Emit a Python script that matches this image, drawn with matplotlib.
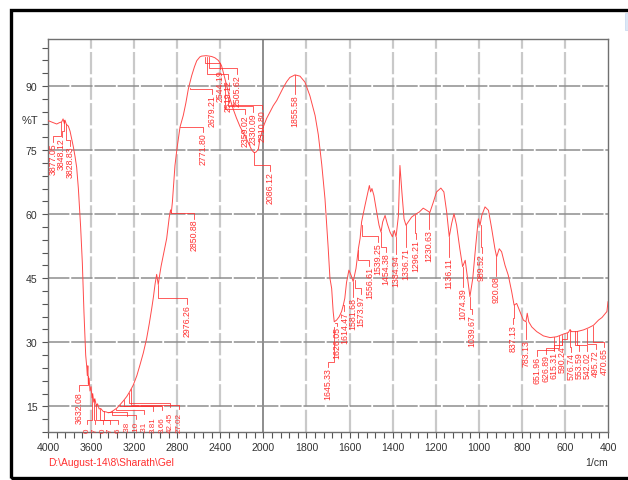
"""FTIR transmittance spectrum (Shimadzu style, scale change at 2000 1/cm)."""

import numpy as np
import matplotlib
matplotlib.use("Agg")
import matplotlib.pyplot as plt
from matplotlib.patches import Rectangle

plt.rcParams["font.family"] = ["Liberation Sans", "DejaVu Sans"]

# ---- spectrum (wavenumber, %T) ----
wavenumber = [
    4000, 3960, 3919, 3895, 3873, 3860, 3848, 3842, 3829, 3811, 3795, 3780, 3765,
    3749, 3734, 3718, 3697, 3681, 3666, 3650, 3640, 3635, 3630, 3625, 3618, 3610,
    3600, 3592, 3585, 3575, 3565, 3550, 3540, 3525, 3510, 3487, 3460, 3440, 3420,
    3394, 3360, 3331, 3300, 3269, 3240, 3208, 3175, 3146, 3115, 3084, 3060, 3037,
    3020, 3006, 2991, 2976, 2966, 2950, 2929, 2898, 2874, 2862, 2855, 2845, 2821,
    2800, 2774, 2744, 2720, 2697, 2666, 2640, 2619, 2590, 2573, 2530, 2480, 2450,
    2419, 2400, 2388, 2360, 2330, 2310, 2279, 2250, 2217, 2155, 2108, 2086, 2070,
    2047, 2032, 2000, 1985, 1954, 1938, 1908, 1892, 1877, 1853, 1830, 1807, 1784,
    1760, 1745, 1729, 1714, 1699, 1691, 1683, 1676, 1671, 1660, 1648, 1637, 1629,
    1622, 1614, 1603, 1593, 1583, 1570, 1559, 1551, 1544, 1528, 1518, 1508, 1502,
    1496, 1487, 1474, 1463, 1454, 1446, 1435, 1425, 1412, 1401, 1392, 1384, 1373,
    1366, 1357, 1347, 1338, 1327, 1312, 1296, 1276, 1258, 1242, 1227, 1211, 1196,
    1176, 1162, 1149, 1137, 1126, 1115, 1103, 1088, 1075, 1063, 1054, 1041, 1028,
    1014, 1002, 994, 986, 971, 955, 940, 925, 917, 905, 894, 878, 863, 847, 836,
    824, 809, 793, 781, 775, 768, 754, 731, 700, 669, 638, 608, 584, 576, 570, 545,
    514, 490, 467, 444, 428, 418, 405, 400,
]
transmittance = [
    81.9, 81.5, 81.1, 81.4, 81.6, 82.3, 81.2, 82.0, 81.0, 80.6, 79.4, 77.6, 75.8,
    73.5, 71.0, 66.0, 57.0, 48.5, 37.0, 27.0, 24.2, 22.2, 24.5, 20.2, 21.6, 18.6,
    19.6, 17.0, 18.0, 16.0, 16.8, 15.0, 15.6, 14.4, 14.5, 13.8, 13.7, 13.5, 13.6,
    14.0, 14.6, 15.4, 16.3, 17.3, 18.5, 20.0, 22.2, 24.7, 27.5, 30.9, 34.3, 37.9,
    40.8, 43.6, 45.9, 43.5, 45.3, 47.8, 50.4, 54.3, 59.3, 61.0, 60.3, 62.8, 71.4,
    75.8, 80.4, 83.1, 86.0, 89.3, 92.4, 94.5, 95.9, 96.8, 97.0, 97.1, 96.9, 96.6,
    96.0, 95.3, 94.7, 92.0, 89.0, 87.0, 84.5, 82.5, 80.5, 77.5, 75.0, 74.4, 74.5,
    75.2, 77.6, 80.5, 82.4, 85.4, 86.6, 89.6, 91.0, 92.0, 92.6, 92.3, 90.9, 87.7,
    83.1, 78.6, 71.6, 63.6, 52.0, 45.0, 42.6, 37.2, 34.8, 35.2, 36.0, 37.2, 38.7,
    40.3, 44.0, 46.9, 45.7, 44.2, 47.3, 51.9, 54.3, 58.2, 62.1, 64.4, 66.7, 65.2,
    66.0, 64.4, 60.5, 57.4, 55.8, 58.2, 59.7, 57.8, 55.8, 54.7, 56.2, 54.7, 59.7,
    71.4, 65.2, 58.9, 57.4, 58.2, 59.3, 59.9, 60.5, 61.4, 60.9, 60.4, 62.8, 65.2,
    66.1, 65.2, 60.5, 54.7, 57.8, 60.1, 57.4, 51.9, 47.7, 49.2, 45.7, 40.7, 44.9,
    52.7, 58.9, 57.4, 59.7, 61.7, 60.9, 56.6, 51.9, 50.0, 51.9, 51.2, 48.0, 45.7,
    41.8, 38.7, 39.1, 37.2, 35.2, 34.8, 36.8, 34.8, 33.6, 32.5, 31.5, 31.1, 31.3,
    31.9, 32.3, 33.0, 32.5, 32.5, 32.9, 33.4, 34.0, 35.2, 35.8, 36.4, 37.2, 39.5,
]

# ---- peak labels: text, text x (1/cm), text top (%T), peak x, peak %T ----
peak_text = [
    "3877.05", "3848.12", "3828.83", "3632.08",
    "2976.26", "2850.88", "2771.80", "2679.21", "2544.19", "2519.12", "2505.62",
    "2359.02", "2330.09", "2310.80", "2086.12", "1855.58",
    "1645.33", "1626.05", "1614.47", "1581.68", "1573.97", "1556.61", "1539.25",
    "1454.38", "1384.94", "1336.71", "1296.21", "1230.63", "1136.11", "1074.39",
    "1039.67", "989.52", "920.08", "837.13", "783.13",
    "651.96", "626.89", "615.31", "590.24", "576.74", "553.59", "542.02",
    "495.72", "470.65",
]
text_x = [
    3956, 3873, 3796, 3712,
    2712, 2641, 2558, 2480, 2403, 2326, 2248, 2172, 2094, 2016, 1969, 1853,
    1699, 1660, 1624, 1585, 1547, 1508, 1468, 1431, 1384, 1338, 1291, 1230,
    1137, 1075, 1033, 987, 920, 839, 781,
    728, 689, 651, 612, 573, 535, 496, 458, 419,
]
text_top = [
    76.9, 78.1, 76.0, 18.6,
    39.0, 58.9, 79.2, 88.1, 94.0, 91.6, 92.8, 83.4, 83.9, 84.6, 70.1, 88.1,
    24.2, 33.9, 37.4, 40.6, 41.3, 47.9, 53.5, 51.1, 50.7, 52.3, 54.2, 56.5,
    50.0, 42.9, 36.6, 50.9, 45.6, 34.3, 30.8,
    26.9, 27.3, 28.0, 29.4, 27.7, 28.0, 28.0, 28.4, 28.8,
]
peak_x = [
    3877, 3848, 3829, 3632,
    2976, 2858, 2772, 2680, 2544, 2519, 2506, 2359, 2330, 2311, 2086, 1855,
    1672, 1668, 1629, 1583, 1574, 1559, 1544, 1454, 1384, 1338, 1296, 1230,
    1137, 1075, 1041, 990, 920, 837, 783,
    652, 627, 615, 590, 577, 554, 542, 496, 471,
]
peak_y = [
    81.6, 82.0, 81.0, 22.0,
    43.5, 60.5, 80.4, 89.5, 96.9, 96.8, 96.8, 90.5, 87.5, 85.5, 74.5, 92.5,
    33.5, 34.5, 38.7, 44.2, 44.5, 51.5, 57.5, 55.8, 54.7, 57.4, 59.9, 60.4,
    54.7, 47.7, 40.7, 57.4, 50.0, 38.7, 34.8,
    31.2, 31.4, 31.7, 32.2, 32.9, 32.6, 32.6, 33.2, 33.8,
]

# O-H band labels, cut off by the bottom of the plot in the reference
# (only the visible ends of the numbers are shown)
band_text = ["0", "7", "0", "7", "6", ".38", ".10", ".31", "3.81", "3.66", "42.45", "27.02"]
band_x = [3635, 3564, 3491, 3420, 3347, 3269, 3183, 3109, 3028, 2944, 2867, 2784]
band_top = [10.8, 10.8, 10.8, 10.8, 10.8, 12.7, 12.0, 13.2, 14.0, 14.2, 14.8, 14.4]
band_peak_x = [3595, 3577, 3552, 3514, 3477, 3440, 3404, 3373, 3330, 3290, 3252, 3227]
band_peak_y = [18.0, 16.8, 15.5, 14.5, 14.0, 13.7, 14.0, 14.5, 15.4, 16.5, 18.2, 19.0]

x_major = [4000, 3600, 3200, 2800, 2400, 2000, 1800, 1600, 1400, 1200, 1000, 800, 600, 400]
y_major = [15, 30, 45, 60, 75, 90]

RED = "#ff3030"
LINE_RED = "#ff4a4a"


def fwd(w):
    # 400 per division above 2000 1/cm, 200 per division below
    w = np.asarray(w, dtype=float)
    return np.where(w > 2000, 8 + (w - 2000) / 400, (w - 400) / 200)


def inv(u):
    u = np.asarray(u, dtype=float)
    return np.where(u > 8, 2000 + (u - 8) * 400, 400 + u * 200)


fig = plt.figure(figsize=(6.28, 4.81), dpi=100)
ax = fig.add_axes([48 / 628, 1 - 433 / 481, 560 / 628, 393 / 481])

ax.set_xscale("function", functions=(fwd, inv))
ax.set_xlim(4000, 400)
ax.set_ylim(9, 101)

# grid
for w in x_major[1:-1]:
    if w == 2000:
        ax.axvline(w, color="#7a7a7a", lw=1.2, zorder=0)
    else:
        ax.axvline(w, color="#c9c9c9", lw=1.6, ls=(0, (10, 1.5)), zorder=0)
for v in y_major:
    ax.axhline(v, color="#8e8e8e", lw=1.1, ls=(0, (14, 1.2)), zorder=0)

ax.plot(wavenumber, transmittance, color=LINE_RED, lw=0.7, zorder=3)

# peak labels with leader lines
for txt, tx, ty, px, py in zip(peak_text, text_x, text_top, peak_x, peak_y):
    knee = min(py, ty + 1.3)
    ax.plot([px, px, tx, tx], [py, knee, knee, ty], color=RED, lw=0.55,
            zorder=4)
    ax.text(tx, ty, txt, rotation=90, ha="center", va="top", fontsize=6.3,
            color=RED, zorder=5)

for txt, tx, ty, px, py in zip(band_text, band_x, band_top, band_peak_x, band_peak_y):
    ax.plot([px, px, tx, tx], [py, ty + 1.0, ty + 1.0, ty], color=RED,
            lw=0.55, zorder=4)
    ax.text(tx, 9.0, txt, rotation=90, ha="center", va="bottom", fontsize=5.8,
            color=RED, zorder=5)

ax.set_xticks(x_major)
ax.set_xticklabels([str(w) for w in x_major])
x_minor = [w for w in range(4000, 2000, -80)] + [w for w in range(2000, 399, -40)]
ax.set_xticks(x_minor, minor=True)
ax.set_yticks(y_major)
ax.set_yticklabels([str(v) for v in y_major])
ax.set_yticks(list(range(9, 100, 3)), minor=True)

ax.tick_params(which="both", direction="out", length=4, width=0.8,
               colors="#555555", labelsize=7.6, labelcolor="#333333", pad=3.5)
for s in ax.spines.values():
    s.set_color("#707070")
    s.set_linewidth(1.0)

ax.text(-0.032, 0.794, "%T", transform=ax.transAxes, fontsize=8,
        ha="center", va="center", color="#333333")
ax.text(0.98, -0.076, "1/cm", transform=ax.transAxes, fontsize=7.6,
        ha="center", va="center", color="#333333")
ax.text(0.0, -0.076, r"D:\August-14\8\Sharath\Gel", transform=ax.transAxes,
        fontsize=7.4, ha="left", va="center", color=RED)

# outer black frame of the screenshot
fig.add_artist(Rectangle((11 / 628, 2.5 / 481), 1.2, 1 - 13.5 / 481,
                         transform=fig.transFigure, fill=False,
                         edgecolor="black", lw=2.4, clip_on=False))
fig.add_artist(Rectangle((624.5 / 628, 1 - 31 / 481), 10 / 628, 17 / 481,
                         transform=fig.transFigure, facecolor="#dce8f6",
                         edgecolor="#c5d7ee", lw=0.5))

fig.savefig("out.png", dpi=100)
